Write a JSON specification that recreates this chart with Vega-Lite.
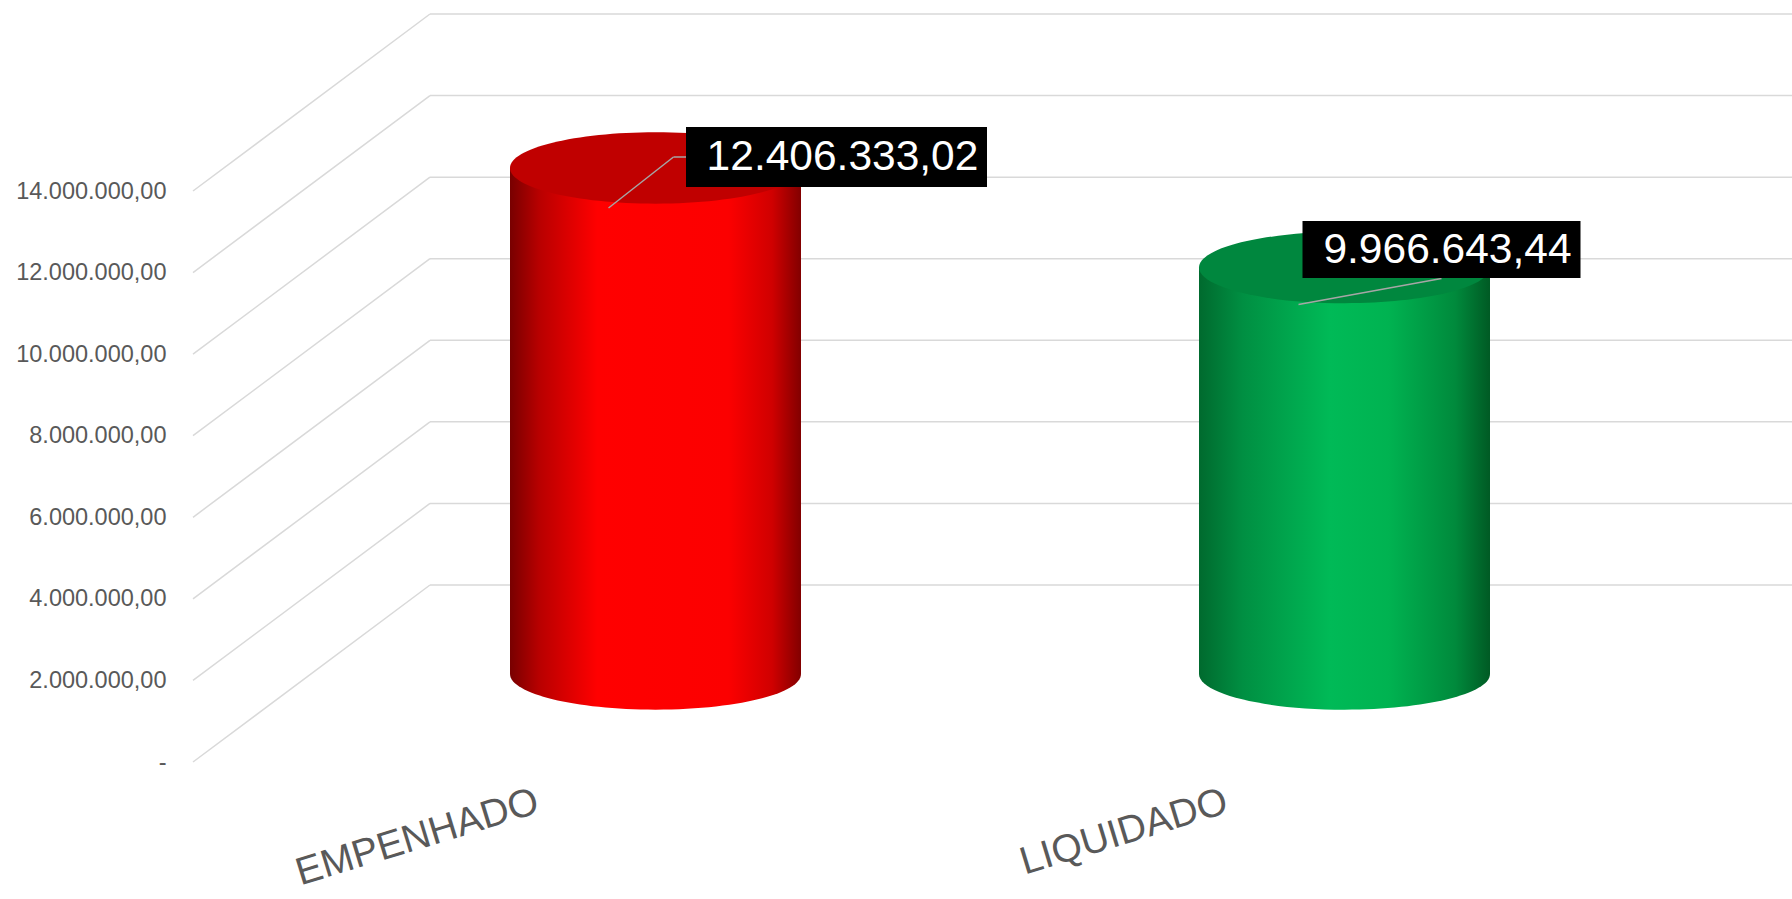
{
  "$schema": "https://vega.github.io/schema/vega-lite/v6.json",
  "autosize": {"type": "none"},
  "width": 1378,
  "height": 571,
  "padding": {"left": 193, "top": 191, "right": 221, "bottom": 137},
  "background": "white",
  "config": {
    "view": {"stroke": null},
    "font": "Liberation Sans",
    "locale": {"number": {"decimal": ",", "thousands": ".", "grouping": [3], "currency": ["R$ ", ""]}}
  },
  "datasets": {
    "valores": [
      {"categoria": "EMPENHADO", "valor": 12406333.02},
      {"categoria": "LIQUIDADO", "valor": 9966643.44}
    ],
    "grade": [
      {"tick": 0}, {"tick": 2000000}, {"tick": 4000000}, {"tick": 6000000},
      {"tick": 8000000}, {"tick": 10000000}, {"tick": 12000000}, {"tick": 14000000}
    ]
  },
  "resolve": {"scale": {"x": "shared", "y": "shared"}},
  "layer": [
    {
      "data": {"name": "grade"},
      "mark": {"type": "rule", "color": "#d9d9d9", "strokeWidth": 1.5, "xOffset": 237, "x2Offset": 237, "yOffset": -177, "y2Offset": -177},
      "encoding": {
        "x": {"value": 0},
        "x2": {"value": "width"},
        "y": {"field": "tick", "type": "quantitative", "scale": {"domain": [0, 14000000], "nice": false, "zero": true},
          "axis": {"values": [0, 2000000, 4000000, 6000000, 8000000, 10000000, 12000000, 14000000],
            "format": ",.2f", "labelExpr": "datum.value === 0 ? '-\u00a0\u00a0\u00a0\u00a0' : datum.label",
            "title": null, "grid": false, "domain": false, "ticks": false,
            "labelFontSize": 23.5, "labelColor": "#595959", "labelPadding": 27, "labelFont": "Liberation Sans"}},
        "y2": {"field": "tick"}
      }
    },
    {
      "data": {"name": "grade"},
      "mark": {"type": "rule", "color": "#d9d9d9", "strokeWidth": 1.5, "x2Offset": 237, "y2Offset": -177},
      "encoding": {
        "x": {"value": 0},
        "x2": {"value": 0},
        "y": {"field": "tick", "type": "quantitative"},
        "y2": {"field": "tick"}
      }
    },
    {
      "data": {"name": "valores"},
      "mark": {"type": "point", "filled": true, "opacity": 1, "strokeWidth": 0, "size": 84681,
        "shape": "M-1,0A1,0.245,0,1,1,1,0A1,0.245,0,1,1,-1,0Z", "xOffset": 118, "yOffset": -88},
      "encoding": {
        "x": {"field": "categoria", "type": "nominal", "scale": {"paddingInner": 0, "paddingOuter": 0},
          "axis": {"title": null, "domain": false, "ticks": false, "grid": false, "labelAngle": -17,
            "labelAlign": "right", "labelBaseline": "middle", "labelPadding": 38, "labelLimit": 0,
            "labelFontSize": 39, "labelColor": "#595959", "labelFont": "Liberation Sans"}},
        "y": {"datum": 0, "type": "quantitative"},
        "fill": {
          "condition": {"test": "datum.categoria === 'EMPENHADO'", "value": {"gradient": "linear", "x1": 0, "y1": 0, "x2": 1, "y2": 0, "stops": [
            {"offset": 0, "color": "#780000"}, {"offset": 0.1, "color": "#b80000"}, {"offset": 0.3, "color": "#ff0000"},
            {"offset": 0.75, "color": "#fc0000"}, {"offset": 0.9, "color": "#d00000"}, {"offset": 1, "color": "#820000"}]}},
          "value": {"gradient": "linear", "x1": 0, "y1": 0, "x2": 1, "y2": 0, "stops": [
            {"offset": 0, "color": "#006a2e"}, {"offset": 0.15, "color": "#008f42"}, {"offset": 0.45, "color": "#00ba57"},
            {"offset": 0.65, "color": "#00b351"}, {"offset": 0.88, "color": "#008a3c"}, {"offset": 1, "color": "#005a24"}]}
        }
      }
    },
    {
      "data": {"name": "valores"},
      "mark": {"type": "bar", "width": 291, "xOffset": 118, "x2Offset": 118, "yOffset": -88, "y2Offset": -88},
      "encoding": {
        "x": {"field": "categoria", "type": "nominal"},
        "y": {"field": "valor", "type": "quantitative"},
        "fill": {
          "condition": {"test": "datum.categoria === 'EMPENHADO'", "value": {"gradient": "linear", "x1": 0, "y1": 0, "x2": 1, "y2": 0, "stops": [
            {"offset": 0, "color": "#780000"}, {"offset": 0.1, "color": "#b80000"}, {"offset": 0.3, "color": "#ff0000"},
            {"offset": 0.75, "color": "#fc0000"}, {"offset": 0.9, "color": "#d00000"}, {"offset": 1, "color": "#820000"}]}},
          "value": {"gradient": "linear", "x1": 0, "y1": 0, "x2": 1, "y2": 0, "stops": [
            {"offset": 0, "color": "#006a2e"}, {"offset": 0.15, "color": "#008f42"}, {"offset": 0.45, "color": "#00ba57"},
            {"offset": 0.65, "color": "#00b351"}, {"offset": 0.88, "color": "#008a3c"}, {"offset": 1, "color": "#005a24"}]}
        }
      }
    },
    {
      "data": {"name": "valores"},
      "mark": {"type": "point", "filled": true, "opacity": 1, "strokeWidth": 0, "size": 84681,
        "shape": "M-1,0A1,0.245,0,1,1,1,0A1,0.245,0,1,1,-1,0Z", "xOffset": 118, "yOffset": -88},
      "encoding": {
        "x": {"field": "categoria", "type": "nominal"},
        "y": {"field": "valor", "type": "quantitative"},
        "fill": {"condition": {"test": "datum.categoria === 'EMPENHADO'", "value": "#c00000"}, "value": "#00873e"}
      }
    },
    {
      "data": {"name": "valores"},
      "transform": [{"filter": "datum.categoria === 'EMPENHADO'"}],
      "mark": {"type": "rule", "color": "#a6a6a6", "strokeWidth": 1.5, "xOffset": 71, "yOffset": -48, "x2Offset": 136, "y2Offset": -99},
      "encoding": {
        "x": {"field": "categoria", "type": "nominal"},
        "x2": {"field": "categoria"},
        "y": {"field": "valor", "type": "quantitative"},
        "y2": {"field": "valor"}
      }
    },
    {
      "data": {"name": "valores"},
      "transform": [{"filter": "datum.categoria === 'EMPENHADO'"}],
      "mark": {"type": "rule", "color": "#a6a6a6", "strokeWidth": 1.5, "xOffset": 136, "yOffset": -99, "x2Offset": 150, "y2Offset": -99},
      "encoding": {
        "x": {"field": "categoria", "type": "nominal"},
        "x2": {"field": "categoria"},
        "y": {"field": "valor", "type": "quantitative"},
        "y2": {"field": "valor"}
      }
    },
    {
      "data": {"name": "valores"},
      "transform": [{"filter": "datum.categoria === 'LIQUIDADO'"}],
      "mark": {"type": "rule", "color": "#a6a6a6", "strokeWidth": 1.5, "xOffset": 72, "yOffset": -51, "x2Offset": 215, "y2Offset": -77},
      "encoding": {
        "x": {"field": "categoria", "type": "nominal"},
        "x2": {"field": "categoria"},
        "y": {"field": "valor", "type": "quantitative"},
        "y2": {"field": "valor"}
      }
    },
    {
      "data": {"name": "valores"},
      "transform": [{"filter": "datum.categoria === 'EMPENHADO'"}],
      "mark": {"type": "point", "filled": true, "opacity": 1, "strokeWidth": 0, "color": "#000000", "size": 90601,
        "shape": "M-1,-0.2H1V0.2H-1Z", "xOffset": 299, "yOffset": -99},
      "encoding": {
        "x": {"field": "categoria", "type": "nominal"},
        "y": {"field": "valor", "type": "quantitative"}
      }
    },
    {
      "data": {"name": "valores"},
      "transform": [{"filter": "datum.categoria === 'LIQUIDADO'"}],
      "mark": {"type": "point", "filled": true, "opacity": 1, "strokeWidth": 0, "color": "#000000", "size": 77284,
        "shape": "M-1,-0.205H1V0.205H-1Z", "xOffset": 215, "yOffset": -106},
      "encoding": {
        "x": {"field": "categoria", "type": "nominal"},
        "y": {"field": "valor", "type": "quantitative"}
      }
    },
    {
      "data": {"name": "valores"},
      "transform": [{"filter": "datum.categoria === 'EMPENHADO'"}],
      "mark": {"type": "text", "color": "#ffffff", "fontSize": 42.5, "font": "Liberation Sans", "align": "center", "baseline": "middle",
        "xOffset": 305, "yOffset": -99},
      "encoding": {
        "x": {"field": "categoria", "type": "nominal"},
        "y": {"field": "valor", "type": "quantitative"},
        "text": {"field": "valor", "type": "quantitative", "format": ",.2f"}
      }
    },
    {
      "data": {"name": "valores"},
      "transform": [{"filter": "datum.categoria === 'LIQUIDADO'"}],
      "mark": {"type": "text", "color": "#ffffff", "fontSize": 42.5, "font": "Liberation Sans", "align": "center", "baseline": "middle",
        "xOffset": 221, "yOffset": -106},
      "encoding": {
        "x": {"field": "categoria", "type": "nominal"},
        "y": {"field": "valor", "type": "quantitative"},
        "text": {"field": "valor", "type": "quantitative", "format": ",.2f"}
      }
    }
  ]
}
